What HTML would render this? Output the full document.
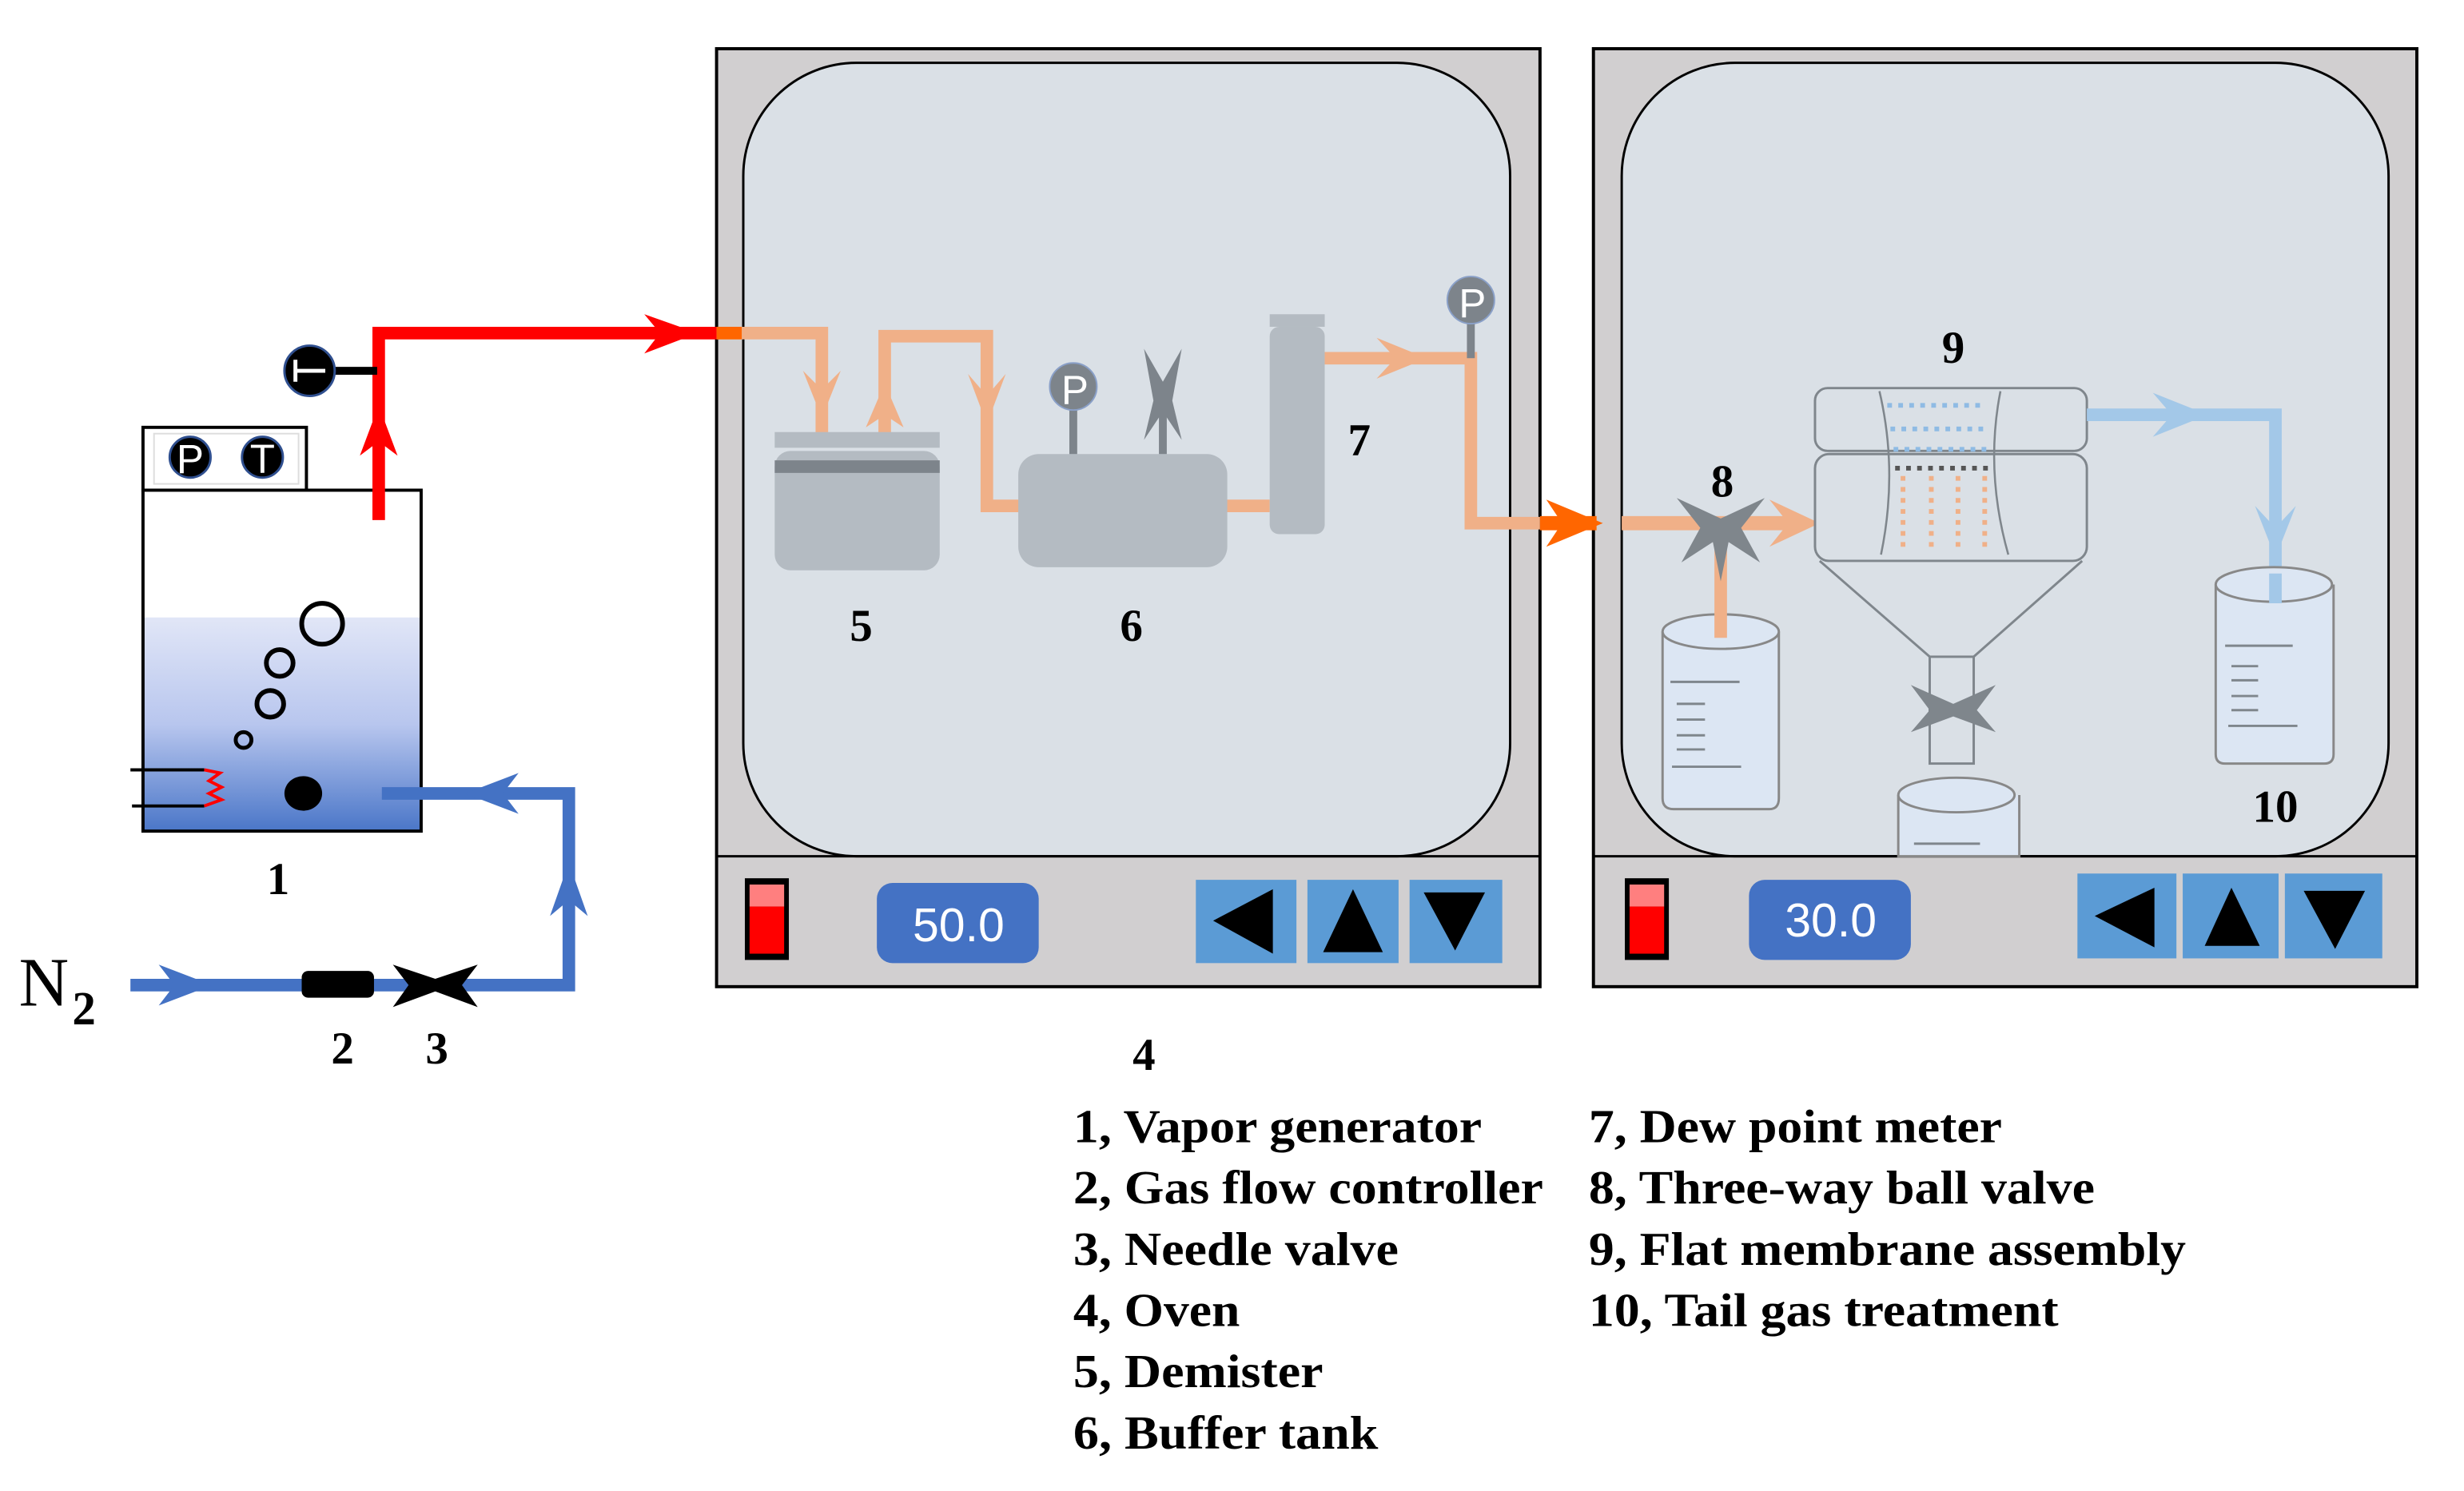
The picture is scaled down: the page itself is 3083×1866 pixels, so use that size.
<!DOCTYPE html>
<html><head><meta charset="utf-8"><style>
html,body{margin:0;padding:0;background:#fff;}
svg{display:block;}
text{font-family:"Liberation Serif",serif;font-weight:bold;fill:#000;}
</style></head><body>
<svg width="3083" height="1866" viewBox="0 0 1568 949" preserveAspectRatio="none" xmlns="http://www.w3.org/2000/svg">
<defs>
<linearGradient id="liq" x1="0" y1="0" x2="0" y2="1">
<stop offset="0" stop-color="#e1e6f7"/><stop offset="0.5" stop-color="#b8c6ee"/><stop offset="1" stop-color="#4a76c8"/>
</linearGradient>
</defs>
<rect width="1568" height="949" fill="#fff"/>

<!-- OVEN 1 -->
<rect x="456" y="31" width="524" height="597" fill="#d1cfd0" stroke="#000" stroke-width="2"/>
<rect x="473" y="40" width="488" height="505" rx="72" fill="#dae0e6" stroke="#000" stroke-width="1.5"/>
<line x1="456" y1="545" x2="980" y2="545" stroke="#000" stroke-width="1.5"/>
<rect x="474" y="559" width="28" height="52" fill="#000"/>
<rect x="477" y="563" width="22" height="14" fill="#ff7f7f"/>
<rect x="477" y="577" width="22" height="30" fill="#f00"/>
<rect x="558" y="562" width="103" height="51" rx="10" fill="#4472c4"/>
<text x="610" y="599" text-anchor="middle" font-size="30" style="font-family:'Liberation Sans',sans-serif;font-weight:normal;fill:#fff">50.0</text>
<rect x="761" y="560" width="64" height="53" fill="#5b9bd5"/>
<rect x="832" y="560" width="58" height="53" fill="#5b9bd5"/>
<rect x="897" y="560" width="59" height="53" fill="#5b9bd5"/>
<polygon points="772,586 810,566 810,607" fill="#000"/>
<polygon points="861,566 842,606 880,606" fill="#000"/>
<polygon points="906,568 945,568 926,605" fill="#000"/>

<!-- OVEN 2 -->
<rect x="1014" y="31" width="524" height="597" fill="#d1cfd0" stroke="#000" stroke-width="2"/>
<rect x="1032" y="40" width="488" height="505" rx="72" fill="#dae0e6" stroke="#000" stroke-width="1.5"/>
<line x1="1014" y1="545" x2="1538" y2="545" stroke="#000" stroke-width="1.5"/>
<rect x="1034" y="559" width="28" height="52" fill="#000"/>
<rect x="1037" y="563" width="22" height="14" fill="#ff7f7f"/>
<rect x="1037" y="577" width="22" height="30" fill="#f00"/>
<rect x="1113" y="560" width="103" height="51" rx="10" fill="#4472c4"/>
<text x="1165" y="596" text-anchor="middle" font-size="30" style="font-family:'Liberation Sans',sans-serif;font-weight:normal;fill:#fff">30.0</text>
<rect x="1322" y="556" width="63" height="54" fill="#5b9bd5"/>
<rect x="1389" y="556" width="61" height="54" fill="#5b9bd5"/>
<rect x="1454" y="556" width="62" height="54" fill="#5b9bd5"/>
<polygon points="1333,583 1371,565 1371,603" fill="#000"/>
<polygon points="1420,565 1403,602 1438,602" fill="#000"/>
<polygon points="1466,567 1505,567 1486,604" fill="#000"/>

<!-- Vapor generator -->
<rect x="91" y="272" width="104" height="40" fill="#fff" stroke="#000" stroke-width="2"/>
<rect x="98" y="276" width="92" height="32" fill="none" stroke="#ddd" stroke-width="1"/>
<circle cx="121" cy="291" r="13" fill="#000" stroke="#2f4f8f" stroke-width="1.5"/>
<text x="121" y="301" text-anchor="middle" font-size="26" style="font-family:'Liberation Sans',sans-serif;font-weight:normal;fill:#fff">P</text>
<circle cx="167" cy="291" r="13" fill="#000" stroke="#2f4f8f" stroke-width="1.5"/>
<text x="167" y="301" text-anchor="middle" font-size="26" style="font-family:'Liberation Sans',sans-serif;font-weight:normal;fill:#fff">T</text>
<rect x="91" y="312" width="177" height="217" fill="#fff"/>
<rect x="91" y="393" width="177" height="136" fill="url(#liq)"/>
<rect x="91" y="312" width="177" height="217" fill="none" stroke="#000" stroke-width="2"/>
<circle cx="205" cy="397" r="13" fill="none" stroke="#000" stroke-width="3"/>
<circle cx="178" cy="422" r="8.5" fill="none" stroke="#000" stroke-width="3"/>
<circle cx="172" cy="448" r="8.5" fill="none" stroke="#000" stroke-width="3"/>
<circle cx="155" cy="471" r="5" fill="none" stroke="#000" stroke-width="2.5"/>
<ellipse cx="193" cy="505" rx="12" ry="11" fill="#000"/>
<line x1="83" y1="490" x2="130" y2="490" stroke="#000" stroke-width="2"/>
<line x1="84" y1="513" x2="130" y2="513" stroke="#000" stroke-width="2"/>
<path d="M130,490 L140,492 L133,497 L141,501 L133,505 L141,509 L130,513" fill="none" stroke="#f00" stroke-width="2"/>

<!-- red pipe -->
<path d="M241,331 V212 H458" fill="none" stroke="#f00" stroke-width="8"/>
<polygon points="241,258 229,290 241,281 253,290" fill="#f00"/>
<polygon points="444,212 410,200 420,212 410,225" fill="#f00"/>
<line x1="205" y1="236" x2="240" y2="236" stroke="#000" stroke-width="5"/>
<circle cx="197" cy="236" r="16" fill="#000" stroke="#2f4f8f" stroke-width="1.5"/>
<path d="M187,236 H207 M188,229 V243" stroke="#fff" stroke-width="2.5"/>

<!-- blue N2 pipe -->
<path d="M83,627 H362 V505 H243" fill="none" stroke="#4472c4" stroke-width="8"/>
<polygon points="135,627 101,614 111,627 101,640" fill="#4472c4"/>
<polygon points="362,549 350,583 362,573 374,583" fill="#4472c4"/>
<polygon points="296,505 330,492 320,505 330,518" fill="#4472c4"/>
<rect x="192" y="618" width="46" height="17" rx="4" fill="#000"/>
<polygon points="250,614 277,623 304,614 294,627 304,641 277,631 250,641 260,627" fill="#000"/>
<text x="12" y="640" font-size="44" style="font-weight:normal">N</text>
<text x="46" y="652" font-size="30">2</text>
<text x="177" y="569" text-anchor="middle" font-size="29">1</text>
<text x="218" y="677" text-anchor="middle" font-size="29">2</text>
<text x="278" y="677" text-anchor="middle" font-size="29">3</text>
<text x="728" y="681" text-anchor="middle" font-size="29">4</text>

<!-- Oven 1 internals -->
<g fill="none" stroke="#f0b088" stroke-width="8">
<path d="M456,212 H523 V276"/>
<path d="M563,276 V214 H628 V322 H650"/>
<path d="M780,322 H808"/>
<path d="M843,228 H936 V333 H980"/>
</g>
<rect x="456" y="208" width="16" height="8" fill="#ff6600"/>
<polygon points="523,266 511,236 523,248 535,236" fill="#f0b088"/>
<polygon points="563,244 551,272 563,264 575,272" fill="#f0b088"/>
<polygon points="628,270 616,238 628,252 640,238" fill="#f0b088"/>
<polygon points="908,228 876,215 888,228 876,241" fill="#f0b088"/>
<rect x="493" y="275" width="105" height="10" fill="#b4bbc2"/>
<rect x="493" y="287" width="105" height="76" rx="10" fill="#b4bbc2"/>
<rect x="493" y="293" width="105" height="8" fill="#7d848b"/>
<rect x="648" y="289" width="133" height="72" rx="13" fill="#b4bbc2"/>
<line x1="683" y1="260" x2="683" y2="289" stroke="#7d848b" stroke-width="5"/>
<circle cx="683" cy="246" r="15" fill="#7d848b" stroke="#8aa0c8" stroke-width="1"/>
<text x="684" y="257" text-anchor="middle" font-size="26" style="font-family:'Liberation Sans',sans-serif;font-weight:normal;fill:#fff">P</text>
<line x1="740" y1="260" x2="740" y2="289" stroke="#7d848b" stroke-width="5"/>
<polygon points="728,222 740,243 752,222 746,255 752,280 740,262 728,280 734,255" fill="#7d848b"/>
<rect x="808" y="200" width="35" height="8" fill="#b4bbc2"/>
<rect x="808" y="208" width="35" height="132" rx="6" fill="#b4bbc2"/>
<line x1="936" y1="205" x2="936" y2="228" stroke="#7d848b" stroke-width="5"/>
<circle cx="936" cy="191" r="15" fill="#7d848b" stroke="#8aa0c8" stroke-width="1"/>
<text x="937" y="202" text-anchor="middle" font-size="26" style="font-family:'Liberation Sans',sans-serif;font-weight:normal;fill:#fff">P</text>
<text x="548" y="408" text-anchor="middle" font-size="29">5</text>
<text x="720" y="408" text-anchor="middle" font-size="29">6</text>
<text x="865" y="290" text-anchor="middle" font-size="29">7</text>

<!-- connection oven1-oven2 -->
<line x1="980" y1="333" x2="1016" y2="333" stroke="#ff6600" stroke-width="9"/>
<polygon points="1020,333 984,318 994,333 984,348" fill="#ff6600"/>

<!-- Oven 2 internals -->
<line x1="1032" y1="333" x2="1140" y2="333" stroke="#f0b088" stroke-width="9"/>
<polygon points="1158,333 1126,318 1138,333 1126,348" fill="#f0b088"/>
<path d="M1058,402 V508 Q1058,515 1065,515 H1126 Q1132,515 1132,508 V402" fill="#dce6f3" stroke="#888" stroke-width="1.5"/>
<ellipse cx="1095" cy="402" rx="37" ry="11" fill="#dce6f3" stroke="#888" stroke-width="1.5"/>
<g stroke="#7f868c" stroke-width="1.5">
<line x1="1063" y1="434" x2="1107" y2="434"/><line x1="1067" y1="448" x2="1085" y2="448"/><line x1="1067" y1="458" x2="1085" y2="458"/><line x1="1067" y1="468" x2="1085" y2="468"/><line x1="1067" y1="477" x2="1085" y2="477"/><line x1="1064" y1="488" x2="1108" y2="488"/>
</g>
<line x1="1095" y1="406" x2="1095" y2="350" stroke="#f0b088" stroke-width="8"/>
<polygon points="1067,317 1095,330 1123,317 1108,336 1120,358 1100,345 1095,370 1090,345 1070,358 1082,336" fill="#7f868c"/>
<text x="1096" y="316" text-anchor="middle" font-size="29">8</text>
<rect x="1155" y="247" width="173" height="40" rx="8" fill="#dae0e6" stroke="#7f868c" stroke-width="1.5"/>
<rect x="1155" y="289" width="173" height="68" rx="9" fill="#dae0e6" stroke="#7f868c" stroke-width="1.5"/>
<path d="M1158,357 L1228,418 M1325,357 L1256,418" stroke="#7f868c" stroke-width="1.5"/>
<rect x="1228" y="418" width="28" height="68" fill="#dae0e6" stroke="#7f868c" stroke-width="1.5"/>
<polygon points="1216,436 1243,448 1270,436 1258,452 1270,466 1243,456 1216,466 1228,452" fill="#7f868c"/>
<path d="M1196,249 Q1208,300 1197,353 M1273,249 Q1263,300 1278,353" fill="none" stroke="#7f868c" stroke-width="1.3"/>
<g stroke-dasharray="3,4" stroke-width="3" fill="none">
<path d="M1201,258 H1262 M1203,273 H1264 M1205,286 H1264" stroke="#8fbbe4"/>
<path d="M1206,298 H1266" stroke="#555"/>
<path d="M1211,303 V350 M1229,303 V350 M1246,303 V350 M1263,303 V350" stroke="#f0b088"/>
</g>
<path d="M1208,506 V545 H1285 V506" fill="#dce6f3" stroke="#888" stroke-width="1.5"/>
<ellipse cx="1245" cy="506" rx="37" ry="11" fill="#dce6f3" stroke="#888" stroke-width="1.5"/>
<line x1="1218" y1="537" x2="1260" y2="537" stroke="#7f868c" stroke-width="1.5"/>
<text x="1243" y="231" text-anchor="middle" font-size="29">9</text>
<path d="M1328,264 H1448 V382" fill="none" stroke="#a3c8e8" stroke-width="8"/>
<polygon points="1405,264 1370,250 1382,264 1370,278" fill="#a3c8e8"/>
<polygon points="1448,355 1435,322 1448,336 1461,322" fill="#a3c8e8"/>
<path d="M1410,372 V480 Q1410,486 1416,486 H1479 Q1485,486 1485,480 V372" fill="#dce6f3" stroke="#888" stroke-width="1.5"/>
<ellipse cx="1447" cy="372" rx="37" ry="11" fill="#dce6f3" stroke="#888" stroke-width="1.5"/>
<line x1="1448" y1="365" x2="1448" y2="384" stroke="#a3c8e8" stroke-width="8"/>
<g stroke="#7f868c" stroke-width="1.5">
<line x1="1416" y1="411" x2="1459" y2="411"/><line x1="1420" y1="424" x2="1437" y2="424"/><line x1="1420" y1="433" x2="1437" y2="433"/><line x1="1420" y1="443" x2="1437" y2="443"/><line x1="1420" y1="452" x2="1437" y2="452"/><line x1="1418" y1="462" x2="1462" y2="462"/>
</g>
<text x="1448" y="523" text-anchor="middle" font-size="29">10</text>

<g font-size="30">
<text x="683" y="727" textLength="260" lengthAdjust="spacingAndGlyphs">1, Vapor generator</text>
<text x="683" y="766" textLength="299" lengthAdjust="spacingAndGlyphs">2, Gas flow controller</text>
<text x="683" y="805" textLength="207" lengthAdjust="spacingAndGlyphs">3, Needle valve</text>
<text x="683" y="844" textLength="106" lengthAdjust="spacingAndGlyphs">4, Oven</text>
<text x="683" y="883" textLength="159" lengthAdjust="spacingAndGlyphs">5, Demister</text>
<text x="683" y="922" textLength="194" lengthAdjust="spacingAndGlyphs">6, Buffer tank</text>
<text x="1011" y="727" textLength="263" lengthAdjust="spacingAndGlyphs">7, Dew point meter</text>
<text x="1011" y="766" textLength="322" lengthAdjust="spacingAndGlyphs">8, Three-way ball valve</text>
<text x="1011" y="805" textLength="380" lengthAdjust="spacingAndGlyphs">9, Flat membrane assembly</text>
<text x="1011" y="844" textLength="299" lengthAdjust="spacingAndGlyphs">10, Tail gas treatment</text>
</g>
</svg>
</body></html>
